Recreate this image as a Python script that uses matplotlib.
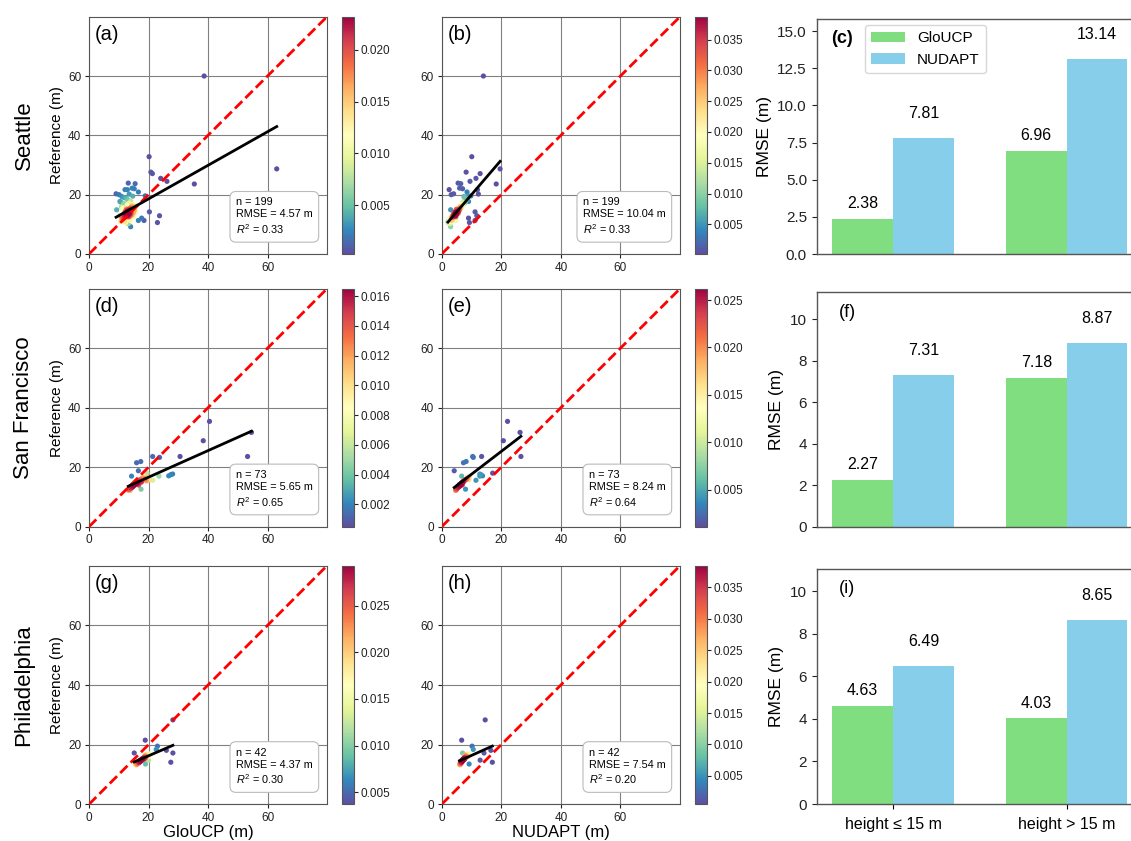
import numpy as np
import matplotlib
matplotlib.use("Agg")
import matplotlib.pyplot as plt
from matplotlib import cm, colors

plt.rcParams['font.family'] = ['Liberation Sans', 'DejaVu Sans']
plt.rcParams['mathtext.fontset'] = 'custom'
plt.rcParams['mathtext.rm'] = 'Liberation Sans'
plt.rcParams['mathtext.it'] = 'Liberation Sans:italic'

# ---------------- data ----------------
cities = ['Seattle', 'San Francisco', 'Philadelphia']

# Seattle: reference height, GloUCP height, NUDAPT height (m)
sea_ref = [60.0, 28.7, 32.8, 27.6, 27.1, 25.5, 24.5, 23.6, 23.9, 23.7, 21.7, 21.7, 22.2, 22.0, 20.9,
           19.6, 20.3, 20.0, 19.4, 20.2, 17.7, 14.2, 12.9, 10.6, 11.3, 12.1, 11.3, 9.2, 14.9,
           13.2, 14.1, 12.8, 15.0, 13.7, 14.5, 12.4, 13.9, 14.8, 13.3,
           12.9, 14.2, 15.4, 13.6, 12.6, 14.0, 13.1, 14.7, 15.8, 13.5,
           12.2, 14.4, 13.8, 16.2, 12.7, 13.0, 15.1, 14.3, 11.8, 13.4,
           16.8, 12.3, 14.9, 13.9, 15.5, 11.5, 17.2, 12.1, 14.6, 16.0,
           13.6, 12.5, 15.2, 11.2, 17.8, 14.0, 10.8, 16.5, 12.0, 18.3,
           13.2, 15.7, 11.0, 14.8, 17.0, 10.5, 16.3, 12.9, 18.8, 13.7,
           15.9, 11.6, 19.0, 14.1, 10.2, 17.5, 12.6, 15.3, 19.5, 11.3,
           13.0, 13.5, 14.0, 13.2, 13.8, 14.4, 12.8, 13.6, 14.2, 13.1,
           13.9, 14.6, 12.9, 13.4, 14.1, 13.7, 12.7, 14.3, 13.3, 14.8,
           13.0, 13.6, 14.0, 12.6, 13.8, 14.5, 13.2, 13.9, 12.9, 14.2,
           13.5, 14.7, 13.1, 13.7, 12.8, 14.1, 13.4, 14.9, 13.6, 12.5]
sea_glo = [38.7, 63.1, 20.2, 20.8, 21.3, 24.1, 26.2, 35.4, 13.2, 15.5, 12.1, 12.9, 14.5, 15.2, 16.6,
           18.9, 9.1, 10.1, 11.0, 13.5, 10.4, 20.3, 23.7, 23.0, 16.6, 17.7, 18.5, 14.0, 9.3,
           12.8, 13.1, 12.5, 13.4, 12.9, 13.3, 12.2, 13.0, 13.6, 12.7,
           12.4, 13.2, 13.8, 12.9, 12.1, 13.5, 12.6, 13.9, 14.2, 13.0,
           11.8, 13.7, 12.3, 14.4, 11.9, 12.2, 14.0, 13.1, 11.5, 12.8,
           14.6, 11.6, 14.3, 12.0, 14.8, 11.2, 13.5, 11.4, 12.4, 15.2,
           13.3, 11.0, 12.6, 10.8, 14.0, 15.0, 10.6, 12.8, 11.1, 13.0,
           14.5, 11.3, 12.0, 15.4, 11.7, 12.3, 15.6, 10.4, 12.5, 14.1,
           10.9, 13.6, 11.8, 15.8, 13.2, 10.7, 15.0, 11.4, 14.7, 13.8,
           12.9, 13.2, 12.6, 13.0, 13.4, 12.8, 12.5, 13.1, 13.5, 12.7,
           13.3, 12.9, 12.4, 13.6, 13.0, 12.8, 13.2, 13.4, 12.6, 13.1,
           12.3, 13.7, 12.9, 13.0, 12.7, 13.3, 13.5, 12.4, 13.1, 12.8,
           13.6, 12.5, 13.2, 12.9, 13.8, 12.7, 13.0, 13.3, 12.6, 13.4]
sea_nud = [14.0, 19.6, 10.1, 8.2, 12.9, 11.5, 9.5, 18.3, 5.5, 6.4, 2.5, 12.0, 6.0, 7.0, 8.5,
           9.8, 4.0, 3.2, 7.5, 12.3, 9.0, 11.2, 11.8, 9.3, 11.2, 9.0, 4.8, 3.0, 3.0,
           4.6, 4.4, 4.5, 5.9, 4.0, 5.6, 3.4, 5.2, 4.8, 4.9,
           3.7, 5.3, 6.1, 4.2, 4.4, 4.6, 3.9, 5.8, 6.5, 4.1,
           3.2, 5.5, 4.8, 6.9, 3.6, 4.5, 5.0, 5.7, 2.8, 4.3,
           7.2, 3.5, 6.0, 4.6, 6.4, 2.6, 7.8, 3.3, 5.4, 6.2,
           5.1, 3.8, 5.9, 2.4, 8.1, 4.9, 2.1, 6.8, 3.0, 8.6,
           4.0, 6.6, 2.9, 5.5, 7.4, 2.3, 6.6, 4.2, 8.4, 5.6,
           6.9, 3.1, 7.6, 4.5, 2.7, 7.1, 4.8, 5.9, 8.9, 3.4,
           4.3, 4.8, 5.0, 4.5, 4.9, 5.3, 4.0, 4.7, 5.2, 4.4,
           5.0, 5.5, 4.1, 4.6, 5.1, 4.8, 3.9, 5.4, 4.5, 5.6,
           4.2, 4.9, 5.2, 3.8, 4.9, 5.5, 4.4, 5.0, 4.2, 5.3,
           4.7, 5.6, 4.3, 4.8, 4.0, 5.1, 4.6, 5.8, 4.8, 3.8]

# San Francisco
sf_ref = [35.4, 31.7, 28.9, 23.6, 23.6, 23.6, 23.3, 21.5, 21.9, 18.8, 17.0, 17.0, 17.1, 17.5, 17.7,
          15.6, 12.6, 18.0,
          13.5, 14.0, 13.2, 14.6, 13.8, 15.1, 12.8, 14.3, 13.6, 15.5,
          12.5, 14.8, 13.0, 15.9, 14.1, 13.4, 16.3, 12.3, 14.5, 15.2,
          13.7, 16.6, 12.9, 14.9, 13.3, 15.7, 14.2, 12.6, 16.0, 13.9,
          15.4, 14.7, 13.1, 16.8, 12.2, 15.0, 14.4, 13.5, 15.8, 14.0]
sf_glo = [40.5, 54.6, 38.4, 53.3, 30.6, 21.4, 23.7, 16.0, 17.4, 16.6, 14.3, 23.5, 26.8, 27.5, 28.1,
          21.4, 17.5, 19.5,
          14.5, 15.2, 14.0, 15.8, 14.8, 16.2, 13.6, 15.5, 14.2, 16.8,
          13.4, 16.0, 14.1, 17.3, 15.0, 14.6, 17.9, 13.2, 15.7, 16.5,
          14.9, 18.4, 13.8, 16.1, 14.3, 17.0, 15.3, 13.5, 18.8, 15.1,
          19.3, 16.4, 14.4, 19.8, 13.9, 17.6, 15.9, 14.7, 20.3, 16.7]
sf_nud = [22.1, 26.3, 20.7, 26.6, 13.4, 10.4, 10.6, 7.3, 8.2, 4.2, 6.7, 12.8, 13.7, 13.2, 12.8,
          11.5, 8.0, 17.1,
          5.6, 6.1, 5.3, 6.7, 5.8, 7.1, 5.0, 6.3, 5.5, 7.6,
          4.9, 6.9, 5.2, 8.1, 5.9, 5.7, 8.6, 4.8, 6.5, 7.3,
          5.8, 8.9, 5.1, 7.0, 5.4, 7.8, 6.4, 4.9, 8.4, 6.2,
          7.5, 6.8, 5.4, 9.3, 4.7, 7.2, 6.6, 6.0, 9.1, 6.9]

# Philadelphia
phl_ref = [28.3, 21.5, 19.5, 18.4, 18.1, 17.2, 14.1, 17.2, 14.8, 13.5,
           14.5, 15.2, 14.0, 15.8, 14.8, 16.2, 13.6, 15.5, 14.2, 16.8,
           13.4, 15.0, 14.6, 16.5, 13.9, 15.4, 14.3, 13.2, 15.9, 14.9,
           16.0, 13.7, 15.6, 14.1, 16.9, 13.5, 15.3, 14.7, 14.4, 15.1]
phl_glo = [28.2, 18.9, 23.0, 22.6, 26.0, 28.2, 27.5, 15.2, 20.0, 19.0,
           17.5, 18.0, 16.8, 18.6, 17.2, 19.0, 16.3, 18.2, 17.0, 19.5,
           16.0, 17.8, 17.4, 18.8, 16.6, 18.4, 17.1, 15.8, 19.2, 17.6,
           20.1, 15.5, 18.9, 16.9, 20.4, 16.2, 17.9, 17.3, 16.5, 18.5]
phl_nud = [14.6, 6.7, 10.2, 10.6, 16.5, 14.2, 17.0, 7.0, 12.9, 9.2,
           7.0, 7.3, 6.6, 7.8, 6.9, 8.2, 6.4, 7.5, 6.8, 8.6,
           6.2, 7.2, 7.1, 8.0, 6.5, 7.6, 6.7, 6.1, 8.4, 6.9,
           8.9, 6.3, 7.9, 6.6, 9.1, 6.0, 7.4, 7.0, 6.3, 7.7]

# regression fits (slope, intercept) for GloUCP / NUDAPT panels
fit_glo = [(0.566, 7.25), (0.447, 7.69), (0.43, 7.65)]
fit_nud = [(1.17, 8.3), (0.768, 9.95), (0.448, 11.9)]

# stats text
n_vals = [199, 73, 42]
rmse_glo_all = [4.57, 5.65, 4.37]
rmse_nud_all = [10.04, 8.24, 7.54]
r2_glo = [0.33, 0.65, 0.30]
r2_nud = [0.33, 0.64, 0.20]

# colourbar ranges (point density)
cbar_glo = [(0.0003, 0.0232), (0.0005, 0.0165), (0.0037, 0.0293)]
cbar_nud = [(0.0002, 0.0387), (0.0011, 0.0262), (0.0005, 0.0384)]
cticks_glo = [[0.005, 0.010, 0.015, 0.020],
              [0.002, 0.004, 0.006, 0.008, 0.010, 0.012, 0.014, 0.016],
              [0.005, 0.010, 0.015, 0.020, 0.025]]
cticks_nud = [[0.005, 0.010, 0.015, 0.020, 0.025, 0.030, 0.035],
              [0.005, 0.010, 0.015, 0.020, 0.025],
              [0.005, 0.010, 0.015, 0.020, 0.025, 0.030, 0.035]]

# RMSE bars
height_cats = ['height \u2264 15 m', 'height > 15 m']
bar_glo = [[2.38, 6.96], [2.27, 7.18], [4.63, 4.03]]
bar_nud = [[7.81, 13.14], [7.31, 8.87], [6.49, 8.65]]
bar_ylim = [15.8, 11.3, 11.05]
bar_yticks = [np.arange(0, 15.01, 2.5), np.arange(0, 10.01, 2), np.arange(0, 10.01, 2)]

refs = [sea_ref, sf_ref, phl_ref]
glos = [sea_glo, sf_glo, phl_glo]
nuds = [sea_nud, sf_nud, phl_nud]

# ---------------- helpers ----------------
def kde_density(x, y):
    xy = np.vstack([x, y])
    n = xy.shape[1]
    cov = np.cov(xy)
    f = n ** (-1.0 / 6.0)
    C = cov * f * f
    Ci = np.linalg.inv(C)
    norm = n * 2 * np.pi * np.sqrt(np.linalg.det(C))
    d = xy[:, :, None] - xy[:, None, :]
    e = np.einsum('ink,ij,jnk->nk', d, Ci, d)
    return np.exp(-0.5 * e).sum(axis=1) / norm


W, H = 1131, 841
fig = plt.figure(figsize=(W / 100, H / 100), dpi=100)


def pos(l, t, r, b):
    return [l / W, 1 - b / H, (r - l) / W, (b - t) / H]


rows_sc = [(16.7, 254.0), (288.7, 526.7), (565.7, 804.3)]
rows_bar = [(19.3, 254.0), (292.3, 526.7), (569.0, 804.0)]
cols_sc = [(89.0, 327.0), (441.7, 680.0)]
cols_cb = [(342.3, 354.0), (695.0, 706.7)]
panel_letters = [['(a)', '(b)', '(c)'], ['(d)', '(e)', '(f)'], ['(g)', '(h)', '(i)']]

cmap = plt.get_cmap('Spectral_r')
spine_c = '#555555'

for r in range(3):
    t, b = rows_sc[r]
    for c in range(2):
        ax = fig.add_axes(pos(cols_sc[c][0], t, cols_sc[c][1], b))
        x = np.array(glos[r] if c == 0 else nuds[r], dtype=float)
        y = np.array(refs[r], dtype=float)
        dens = kde_density(x, y)
        vmin, vmax = (cbar_glo if c == 0 else cbar_nud)[r]
        # map density range onto the colourbar range of the reference
        dval = vmin + (dens - dens.min()) / (dens.max() - dens.min()) * (vmax - vmin)
        order = np.argsort(dval)
        norm = colors.Normalize(vmin=vmin, vmax=vmax)
        ax.scatter(x[order], y[order], c=dval[order], cmap=cmap, norm=norm,
                   s=14, edgecolors='none', zorder=3)
        ax.axline((0, 0), slope=1, color='red', ls='--', lw=2, zorder=4)
        slope, icpt = (fit_glo if c == 0 else fit_nud)[r]
        xl = np.array([x.min(), x.max()])
        ax.plot(xl, slope * xl + icpt, color='black', lw=2, zorder=5)
        ax.set_xlim(0, 80)
        ax.set_ylim(0, 80)
        ax.set_xticks([0, 20, 40, 60])
        ax.set_yticks([0, 20, 40, 60])
        ax.tick_params(labelsize=8.5, colors='#222222', length=3, width=0.8, pad=2.5)
        ax.grid(True, color='#808080', lw=0.8)
        ax.set_axisbelow(True)
        for sp in ax.spines.values():
            sp.set_color(spine_c)
            sp.set_linewidth(0.8)
        ax.text(0.025, 0.965, panel_letters[r][c], transform=ax.transAxes,
                fontsize=14.5, va='top', ha='left')
        n = n_vals[r]
        rm = (rmse_glo_all if c == 0 else rmse_nud_all)[r]
        r2 = (r2_glo if c == 0 else r2_nud)[r]
        txt = f"n = {n}\nRMSE = {rm:.2f} m\n$R^2$ = {r2:.2f}"
        ax.text(0.94, 0.075, txt, transform=ax.transAxes, fontsize=7.8,
                ha='right', va='bottom', multialignment='left', linespacing=1.25,
                bbox=dict(boxstyle='round,pad=0.55', fc='white', ec='#bbbbbb', lw=0.8),
                zorder=6)
        if c == 0:
            ax.set_ylabel('Reference (m)', fontsize=11, labelpad=3)
        if r == 2:
            ax.set_xlabel('GloUCP (m)' if c == 0 else 'NUDAPT (m)', fontsize=12, labelpad=0.5)

        cax = fig.add_axes(pos(cols_cb[c][0], t, cols_cb[c][1], b))
        sm = cm.ScalarMappable(norm=norm, cmap=cmap)
        cb = fig.colorbar(sm, cax=cax)
        cb.set_ticks((cticks_glo if c == 0 else cticks_nud)[r])
        cb.ax.yaxis.set_major_formatter(matplotlib.ticker.FormatStrFormatter('%.3f'))
        cb.ax.tick_params(labelsize=8.5, colors='#222222', length=3, width=0.8, pad=2)
        cb.outline.set_edgecolor(spine_c)
        cb.outline.set_linewidth(0.8)

    # bar panel
    tb, bb = rows_bar[r]
    bax = fig.add_axes(pos(816.7, tb, 1143.0, bb))
    xpos = np.arange(len(height_cats))
    w = 0.35
    gcol = '#80dd80'
    bcol = '#87ceeb'
    b1 = bax.bar(xpos - w / 2, bar_glo[r], width=w, color=gcol, label='GloUCP')
    b2 = bax.bar(xpos + w / 2, bar_nud[r], width=w, color=bcol, label='NUDAPT')
    for rect, v in zip(b1, bar_glo[r]):
        bax.annotate(f"{v:.2f}", (rect.get_x() + rect.get_width() / 2, v),
                     xytext=(0, 11), textcoords='offset points', ha='center', va='center', fontsize=11.5)
    for rect, v in zip(b2, bar_nud[r]):
        bax.annotate(f"{v:.2f}", (rect.get_x() + rect.get_width() / 2, v),
                     xytext=(0, 17.5), textcoords='offset points', ha='center', va='center', fontsize=11.5)
    bax.set_xlim(-0.44, 1.44)
    bax.set_ylim(0, bar_ylim[r])
    bax.set_yticks(bar_yticks[r])
    if r == 0:
        bax.yaxis.set_major_formatter(matplotlib.ticker.FormatStrFormatter('%.1f'))
    bax.set_xticks(xpos)
    if r == 2:
        bax.set_xticklabels(height_cats, fontsize=11.5)
        bax.tick_params(axis='x', pad=6)
    else:
        bax.set_xticklabels([])
        bax.tick_params(axis='x', length=0)
    bax.tick_params(axis='y', labelsize=11, colors='#222222')
    bax.set_ylabel('RMSE (m)', fontsize=12.5)
    for sp in bax.spines.values():
        sp.set_color(spine_c)
        sp.set_linewidth(1.0)
    if r == 0:
        bax.text(0.044, 0.92, panel_letters[r][2], transform=bax.transAxes,
                 fontsize=13, fontweight='bold', va='center', ha='left')
        bax.legend(loc='upper left', bbox_to_anchor=(0.148, 0.975), borderaxespad=0,
                   fontsize=11, frameon=True, edgecolor='#cccccc', handlelength=2.2)
    else:
        bax.text(0.068, 0.915, panel_letters[r][2], transform=bax.transAxes,
                 fontsize=13, va='center', ha='left')

    fig.text(24 / W, 1 - ((t + b) / 2) / H, cities[r], rotation=90, fontsize=16,
             ha='center', va='center')

fig.savefig('out.png', dpi=100)
